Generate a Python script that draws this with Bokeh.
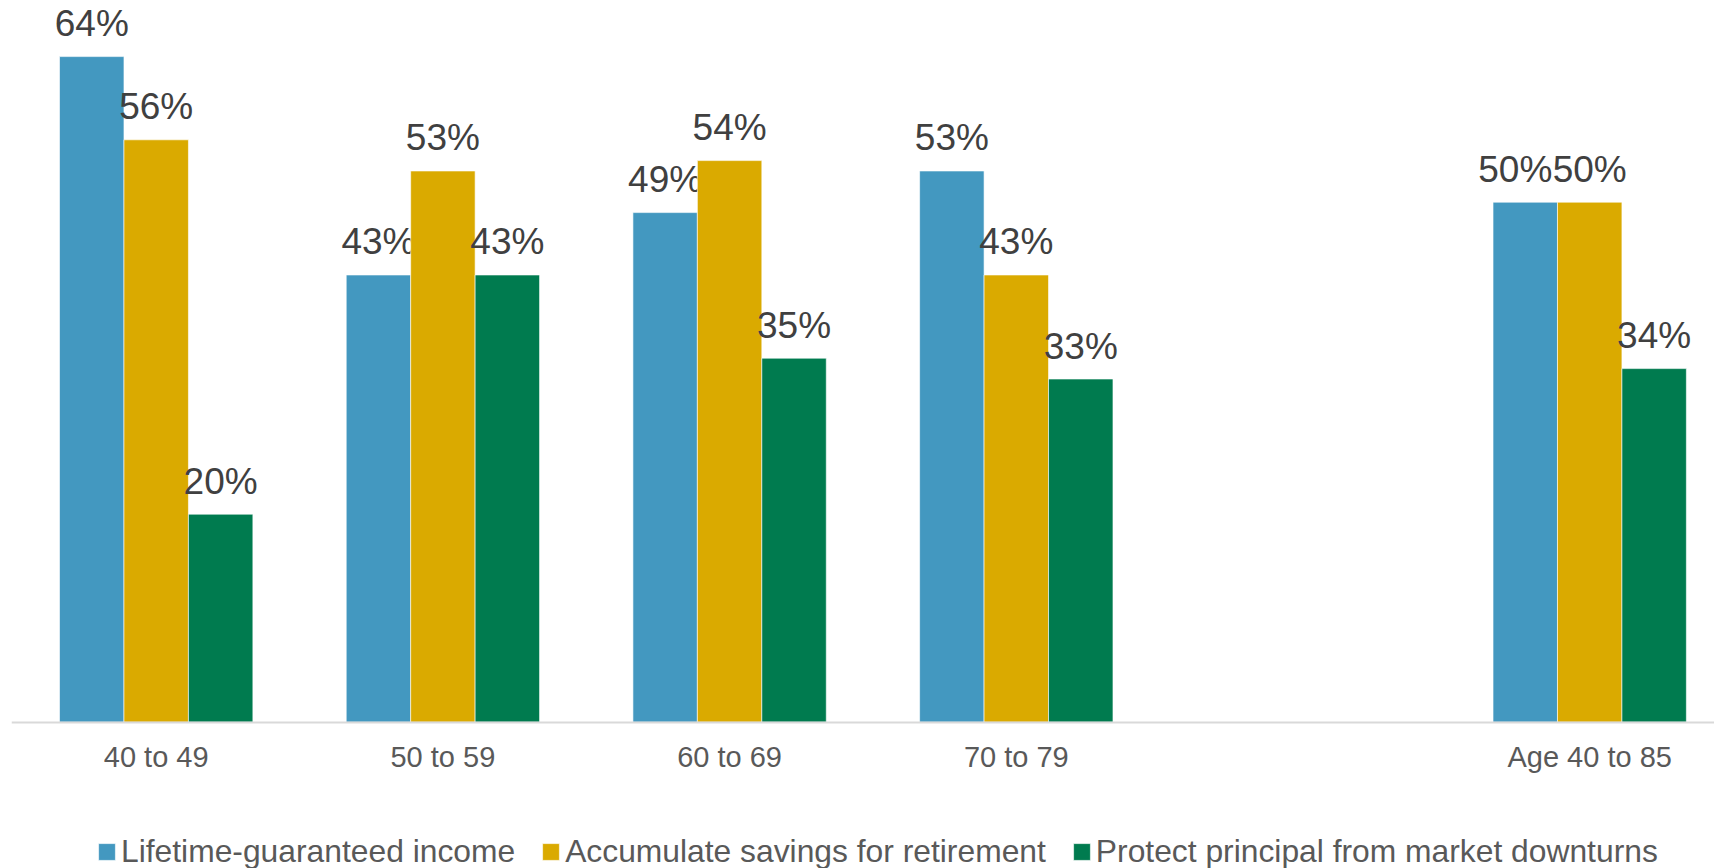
from bokeh.plotting import figure
from bokeh.models import Range1d, FixedTicker, Legend, LegendItem, ColumnDataSource
from bokeh.transform import dodge
from bokeh.core.properties import value
from bokeh.embed import file_html
from bokeh.resources import INLINE

# ---- data ----
categories = ["40 to 49", "50 to 59", "60 to 69", "70 to 79", "Age 40 to 85"]
lifetime = [0.64, 0.43, 0.49, 0.53, 0.50]
accumulate = [0.56, 0.53, 0.54, 0.43, 0.50]
protect = [0.20, 0.43, 0.35, 0.33, 0.34]
series_names = ["Lifetime-guaranteed income",
                "Accumulate savings for retirement",
                "Protect principal from market downturns"]
series_values = [lifetime, accumulate, protect]

# ---- style ----
colors = ["#4398C0", "#DAAA00", "#007B4F"]
FONT = "Liberation Sans"
BAR_W = 0.2248

# category slots: one empty slot separates the age bands from the overall group
slots = [i if i < 4 else i + 1 for i in range(len(categories))]

p = figure(width=1714, height=868, output_backend="svg", toolbar_location=None,
           x_range=Range1d(-0.5047, 5.4353), y_range=Range1d(-0.14067, 0.69394),
           y_axis_location=None, min_border_left=11, min_border_right=0,
           min_border_top=0, min_border_bottom=0)
p.outline_line_color = None
p.xgrid.visible = False
p.ygrid.visible = False
p.background_fill_color = "white"
p.border_fill_color = "white"

data = dict(x=slots)
for k, vals in enumerate(series_values):
    data[f"v{k}"] = vals
    data[f"t{k}"] = [f"{round(v * 100)}%" for v in vals]
    # nudge a label left when it would collide with an equally tall neighbour
    if k + 1 < len(series_values):
        nxt = series_values[k + 1]
        data[f"o{k}"] = [-10 if abs(a - b) < 0.005 else 0 for a, b in zip(vals, nxt)]
    else:
        data[f"o{k}"] = [0] * len(vals)
src = ColumnDataSource(data)

renderers = []
for k in range(3):
    off = (k - 1) * BAR_W
    r = p.vbar(x=dodge("x", off, range=p.x_range), top=f"v{k}", bottom=0, width=BAR_W,
               source=src, fill_color=colors[k], line_color="white", line_alpha=0.6,
               line_width=1)
    renderers.append(r)
    p.text(x=dodge("x", off, range=p.x_range), y=f"v{k}", text=f"t{k}", source=src,
           x_offset=f"o{k}", text_align="center", text_baseline="alphabetic", y_offset=-33,
           text_font=value(FONT), text_font_size="37px", text_color="#404040")

ax = p.xaxis[0]
ax.fixed_location = 0
ax.ticker = FixedTicker(ticks=slots)
ax.major_label_overrides = {s: c for s, c in zip(slots, categories)}
ax.major_tick_in = 0
ax.major_tick_out = 0
ax.minor_tick_in = 0
ax.minor_tick_out = 0
ax.axis_line_color = "#D9D9D9"
ax.axis_line_width = 2
ax.major_label_text_font = FONT
ax.major_label_text_font_size = "29px"
ax.major_label_text_color = "#595959"
ax.major_label_standoff = 19

legend = Legend(items=[LegendItem(label=n, renderers=[r]) for n, r in zip(series_names, renderers)],
                orientation="horizontal", location=(85, -2),
                glyph_width=21, glyph_height=21, label_standoff=4, spacing=25,
                label_text_font=FONT, label_text_font_size="31.8px",
                label_text_color="#595959", border_line_color=None,
                background_fill_alpha=0, padding=0, margin=0)
p.add_layout(legend)

open("out.html", "w").write(file_html(p, INLINE))
